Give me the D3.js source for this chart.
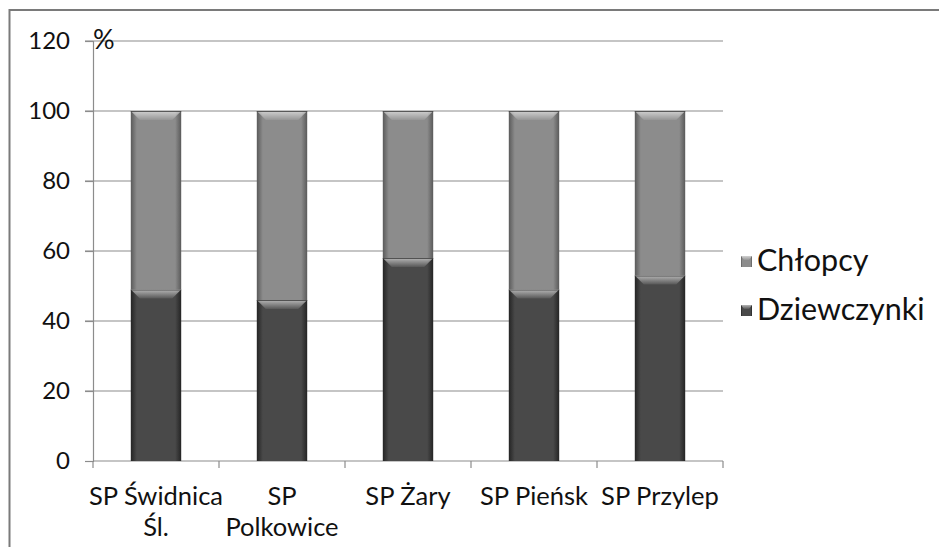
<!DOCTYPE html>
<html><head><meta charset="utf-8">
<script src="https://cdn.jsdelivr.net/npm/d3@7"></script>
<style>body{margin:0;background:#fff}svg{display:block}text{font-family:Lato,"Open Sans",sans-serif;fill:#111}</style>
</head><body>
<svg id="c" width="939" height="547"></svg>
<script>
const categories = [["SP Świdnica","Śl."],["SP","Polkowice"],["SP Żary"],["SP Pieńsk"],["SP Przylep"]];
const dziewczynki = [49, 46, 58, 49, 53];
const chlopcy = [51, 54, 42, 51, 47];
const yTicks = [0,20,40,60,80,100,120];
const seriesNames = ["Chłopcy","Dziewczynki"];

const svg = d3.select("#c");
const m = {l:93, r:723, t:41, b:461};
const ids = categories.map((c,i)=>i);
const x = d3.scaleBand().domain(ids).range([m.l,m.r]).paddingInner(0.6).paddingOuter(0.3);
const y = d3.scaleLinear().domain([0,120]).range([m.b,m.t]);

// border
svg.append("rect").attr("x",9.5).attr("y",10).attr("width",940).attr("height",560)
  .attr("fill","none").attr("stroke","#7a7a7a").attr("stroke-width",2);

const defs = svg.append("defs");
function grad(id, edge, mid){
  const g = defs.append("linearGradient").attr("id",id).attr("x1",0).attr("x2",1).attr("y1",0).attr("y2",0);
  g.append("stop").attr("offset","0").attr("stop-color",edge);
  g.append("stop").attr("offset","0.12").attr("stop-color",mid);
  g.append("stop").attr("offset","0.88").attr("stop-color",mid);
  g.append("stop").attr("offset","1").attr("stop-color",edge);
}
grad("gC","#5a5a5a","#8c8c8c");
grad("gD","#242424","#494949");
const bv = defs.append("linearGradient").attr("id","bv").attr("x1",0).attr("x2",0).attr("y1",0).attr("y2",1);
bv.append("stop").attr("offset","0").attr("stop-color","#fff").attr("stop-opacity",0.6);
bv.append("stop").attr("offset","1").attr("stop-color","#fff").attr("stop-opacity",0.08);

// gridlines
svg.append("g").selectAll("line").data(yTicks.filter(d=>d>0)).join("line")
  .attr("x1",85).attr("x2",m.r).attr("y1",d=>y(d)).attr("y2",d=>y(d))
  .attr("stroke","#8c8c8c").attr("stroke-width",1.2);

// y axis
const ya = svg.append("g").attr("transform",`translate(${m.l},0)`)
  .call(d3.axisLeft(y).tickValues(yTicks).tickSize(8).tickPadding(15));
ya.select(".domain").attr("stroke","#8c8c8c").attr("stroke-width",1.2);
ya.selectAll(".tick line").attr("stroke","#8c8c8c").attr("stroke-width",1.2);
ya.selectAll(".tick text").style("font-size","24px").style("fill","#111").attr("font-family","Lato");

svg.append("text").attr("x",93).attr("y",48.5).text("%").style("font-size","27px");

// x axis
const xa = svg.append("g").attr("transform",`translate(0,${m.b})`);
xa.append("line").attr("x1",m.l).attr("x2",m.r).attr("stroke","#8c8c8c").attr("stroke-width",1.2);
const bounds = d3.range(ids.length+1).map(i=> m.l + i*x.step());
xa.selectAll(".tk").data(bounds).join("line").attr("class","tk")
  .attr("x1",d=>d).attr("x2",d=>d).attr("y1",0).attr("y2",7)
  .attr("stroke","#8c8c8c").attr("stroke-width",1.2);
categories.forEach((lines,i)=>{
  const cx = x(i)+x.bandwidth()/2;
  const t = svg.append("text").attr("text-anchor","middle").style("font-size","25.5px")
    .attr("x", cx).attr("y",505);
  lines.forEach((ln,j)=> t.append("tspan").attr("x",cx).attr("dy", j?31:0).text(ln));
});

// bars
const bevel = 9;
function seg(i, y0, y1, fill){
  const g = svg.append("g");
  const bx = x(i), bw = x.bandwidth();
  g.append("rect").attr("x",bx).attr("y",y(y1)).attr("width",bw).attr("height",y(y0)-y(y1))
    .attr("fill",`url(#${fill})`);
  g.append("path").attr("d",`M${bx},${y(y1)} L${bx+bw},${y(y1)} L${bx+bw-bevel},${y(y1)+bevel} L${bx+bevel},${y(y1)+bevel}Z`)
    .attr("fill","url(#bv)");
  g.append("line").attr("x1",bx).attr("x2",bx+bw).attr("y1",y(y1)+0.5).attr("y2",y(y1)+0.5)
    .attr("stroke","#333").attr("stroke-width",1.2).attr("opacity",0.75);
}
ids.forEach(i=>{
  seg(i, 0, dziewczynki[i], "gD");
  seg(i, dziewczynki[i], dziewczynki[i]+chlopcy[i], "gC");
});

// legend
const lg = svg.append("g");
[["gC",261,seriesNames[0]],["gD",310,seriesNames[1]]].forEach(([f,cy,name])=>{
  lg.append("rect").attr("x",741).attr("y",cy-5).attr("width",11).attr("height",11).attr("fill",`url(#${f})`);
  lg.append("path").attr("d",`M741,${cy-5} L752,${cy-5} L749,${cy-1} L744,${cy-1}Z`).attr("fill","url(#bv)");
  lg.append("text").attr("x",757).attr("y",cy+10).text(name).style("font-size","30.5px");
});
</script>
</body></html>
